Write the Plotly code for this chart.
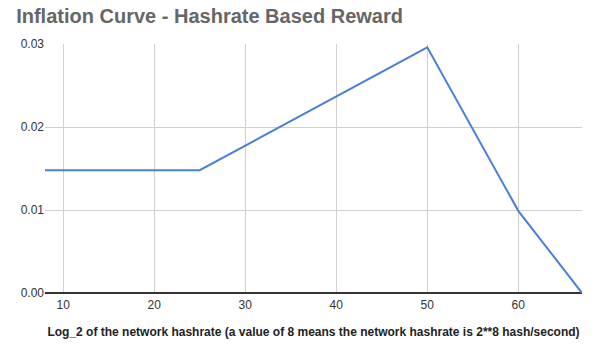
import plotly.graph_objects as go

x_vals = [8, 25, 50, 60, 67]
y_vals = [0.0148, 0.0148, 0.0296, 0.0099, 0.0]
x_ticks = [10, 20, 30, 40, 50, 60]
y_ticks = [0.0, 0.01, 0.02, 0.03]

fig = go.Figure()
fig.add_trace(go.Scatter(x=x_vals, y=y_vals, mode="lines",
                         line=dict(color="#4a7fd6", width=2)))

fig.update_layout(
    width=600, height=351,
    margin=dict(l=45, r=18, t=44, b=58),
    paper_bgcolor="white", plot_bgcolor="white",
    showlegend=False,
    title=dict(text="<b>Inflation Curve - Hashrate Based Reward</b>",
               x=0.027, xanchor="left", y=0.955, yanchor="middle",
               font=dict(family="Liberation Sans, Arial", size=20, color="#666666")),
    font=dict(family="Liberation Sans, Arial", size=12, color="#333333"),
)
fig.update_xaxes(range=[8, 67], tickvals=x_ticks, showgrid=True, gridcolor="#d0d0d0",
                 zeroline=False, showline=False, ticks="", ticklen=0,
                 ticklabelstandoff=3,
                 tickfont=dict(size=12, color="#333333"),
                 title=dict(text="<b>Log_2 of the network hashrate (a value of 8 means the network hashrate is 2**8 hash/second)</b>",
                            font=dict(size=12, color="#222222"), standoff=16))
fig.update_yaxes(range=[0, 0.03], tickvals=y_ticks, tickformat=".2f",
                 showgrid=True, gridcolor="#d0d0d0", zeroline=True,
                 zerolinecolor="#333333", zerolinewidth=1.5, showline=False,
                 ticks="", tickfont=dict(size=12, color="#333333"))

fig.write_html("out.html")
